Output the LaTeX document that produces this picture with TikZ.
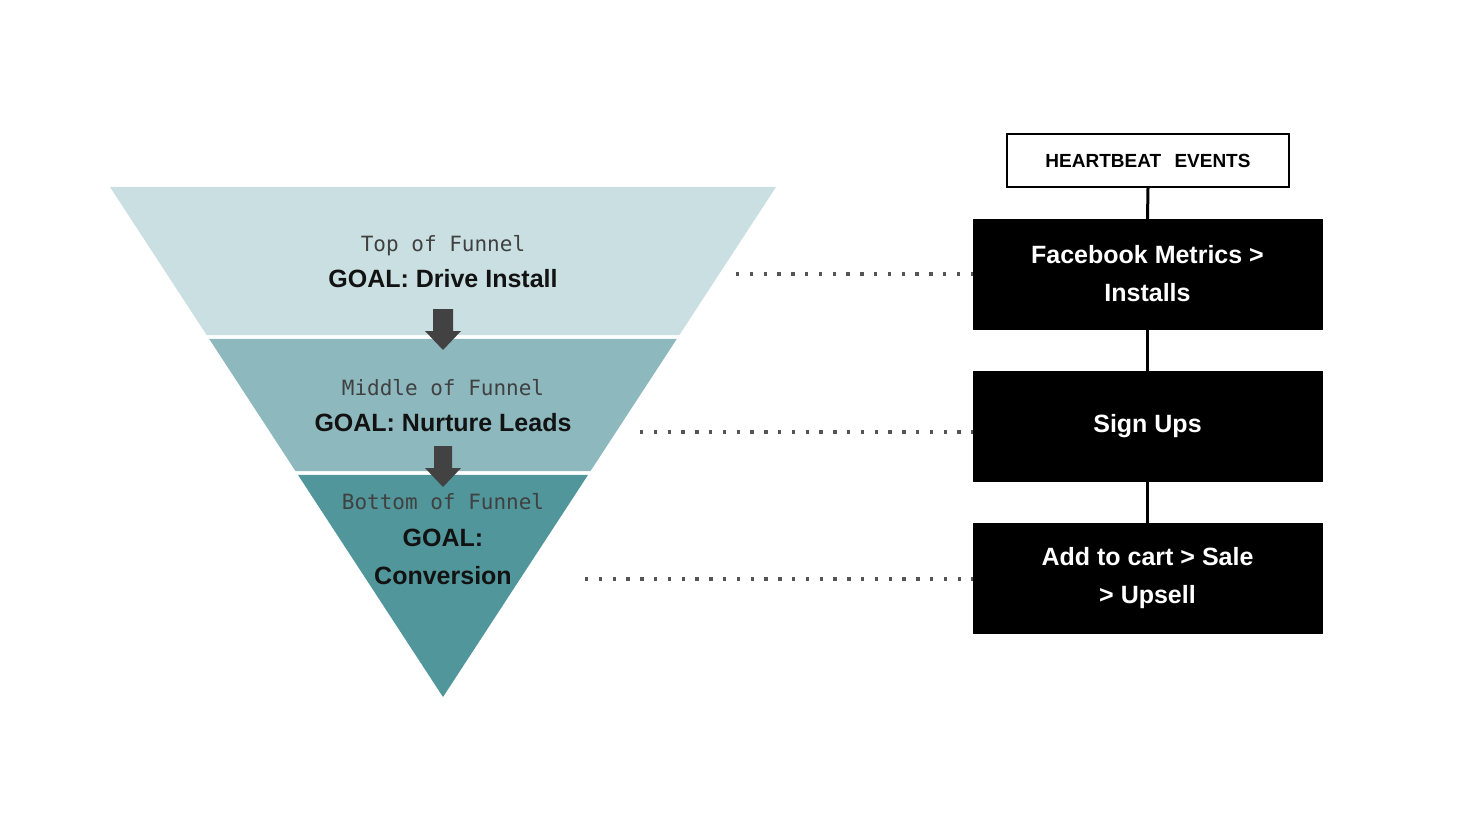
\documentclass[tikz,border=0pt]{standalone}
\usepackage{fontspec}
\setmainfont{Liberation Sans}
\newfontfamily\monof{DejaVu Sans Mono}
\usetikzlibrary{calc}
\definecolor{topc}{RGB}{201,223,225}
\definecolor{midc}{RGB}{140,184,190}
\definecolor{botc}{RGB}{80,150,154}
\definecolor{arrc}{RGB}{66,66,66}
\definecolor{monoc}{RGB}{64,64,64}
\definecolor{goalc}{RGB}{18,18,18}
\definecolor{dotc}{RGB}{85,85,85}
\tikzset{
  monotext/.style={font=\monof\fontsize{21}{24}\selectfont, text=monoc, anchor=base, inner sep=0pt},
  goaltext/.style={font=\bfseries\fontsize{25}{38}\selectfont, text=goalc, anchor=base, inner sep=0pt, align=center},
  blackbox/.style={fill=black, draw=black, minimum width=349pt, minimum height=110pt, inner sep=0pt, text=white, font=\bfseries\fontsize{25}{38}\selectfont, align=center},
  headbox/.style={fill=white, draw=black, line width=2pt, minimum width=282pt, minimum height=53pt, inner sep=0pt, font=\bfseries\fontsize{19}{21}\selectfont},
  linkline/.style={line width=3pt, black},
  dotline/.style={dotc, line width=3.3pt, dash pattern=on 3.3pt off 10.5pt},
  blockarrow/.style={fill=arrc}
}
\begin{document}
\begin{tikzpicture}[x=1pt,y=-1pt]
\useasboundingbox (0,0) rectangle (1465,824);
% funnel geometry
\coordinate (L) at (110,187);
\coordinate (R) at (776,187);
\coordinate (Apex) at (443,697);
\coordinate (L1) at ($(L)!0.2902!(Apex)$);
\coordinate (R1) at ($(R)!0.2902!(Apex)$);
\coordinate (L2) at ($(L)!0.2980!(Apex)$);
\coordinate (R2) at ($(R)!0.2980!(Apex)$);
\coordinate (L3) at ($(L)!0.5569!(Apex)$);
\coordinate (R3) at ($(R)!0.5569!(Apex)$);
\coordinate (L4) at ($(L)!0.5647!(Apex)$);
\coordinate (R4) at ($(R)!0.5647!(Apex)$);
\fill[topc] (L) -- (R) -- (R1) -- (L1) -- cycle;
\fill[midc] (L2) -- (R2) -- (R3) -- (L3) -- cycle;
\fill[botc] (L4) -- (R4) -- (Apex) -- cycle;
% block arrows
\fill[blockarrow] (433,309) -- (453,309) -- (453,331) -- (461,331) -- (443,350) -- (425,331) -- (433,331) -- cycle;
\fill[blockarrow] (434,446) -- (452,446) -- (452,468) -- (461,468) -- (443,487) -- (425,468) -- (434,468) -- cycle;
% funnel texts
\node[monotext] (t1) at (443,251) {Top of Funnel};
\node[goaltext] (g1) at (443,287) {GOAL: Drive Install};
\node[monotext] (t2) at (443,395) {Middle of Funnel};
\node[goaltext] (g2) at (443,431) {GOAL: Nurture Leads};
\node[monotext] (t3) at (443,509) {Bottom of Funnel};
\node[goaltext, anchor=north] (g3) at (443,529) {GOAL:\\Conversion};
% right side
\node[headbox] (hb) at (1148,160.5) {HEARTBEAT\hspace{0.7em}EVENTS};
\node[blackbox] (fb) at (1147.5,274) {Facebook Metrics >\\Installs};
\node[blackbox] (su) at (1147.5,426.5) {Sign Ups};
\node[blackbox] (ac) at (1147.5,578.5) {Add to cart > Sale\\> Upsell};
\draw[linkline] (hb.south) -- (fb.north);
\draw[linkline] (fb.south) -- (su.north);
\draw[linkline] (su.south) -- (ac.north);
% dotted links
\coordinate (d1) at (736,274);
\coordinate (d2) at (640,432);
\coordinate (d3) at (585,579);
\draw[dotline] (d1) -- (d1 -| fb.west);
\draw[dotline] (d2) -- (d2 -| su.west);
\draw[dotline] (d3) -- (d3 -| ac.west);
\end{tikzpicture}
\end{document}
